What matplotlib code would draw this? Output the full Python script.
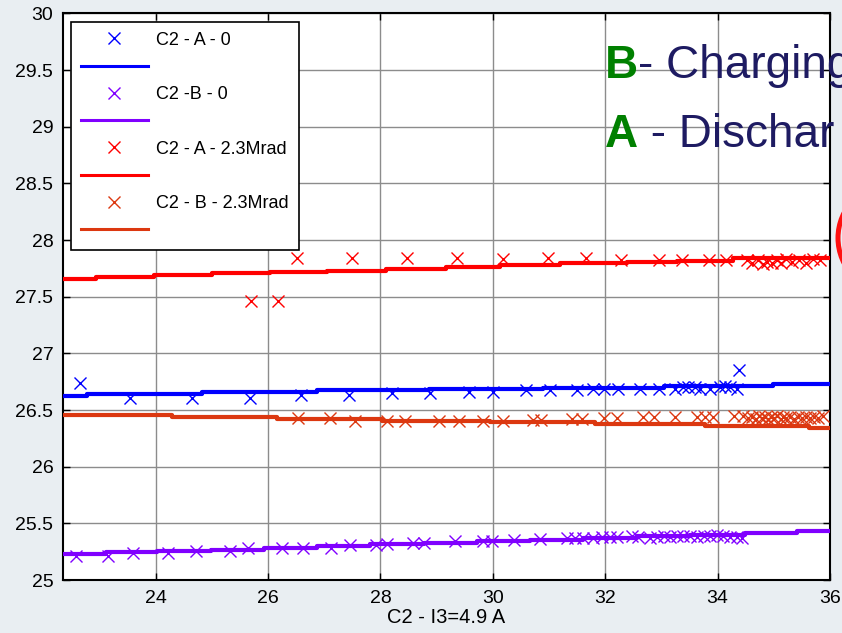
import matplotlib
matplotlib.use("Agg")
import matplotlib.pyplot as plt
from matplotlib.lines import Line2D
from matplotlib.patches import Ellipse

plt.rcParams['font.family'] = ['Liberation Sans', 'DejaVu Sans']

# step-fit lines (x = where each level starts, last x closes the line)
red_step_x = [22.35, 22.93, 23.97, 25.01, 26.04, 27.05, 28.09, 29.16, 30.13, 31.20, 32.38, 33.27, 34.28, 36.0]
red_step_y = [27.654, 27.672, 27.692, 27.707, 27.718, 27.730, 27.745, 27.760, 27.780, 27.795, 27.804, 27.818, 27.840, 27.840]

blue_step_x = [22.35, 22.78, 24.83, 26.87, 28.86, 30.90, 33.04, 34.99, 36.0]
blue_step_y = [26.625, 26.642, 26.660, 26.675, 26.688, 26.697, 26.708, 26.727, 26.727]

orange_step_x = [22.35, 24.29, 26.16, 28.03, 29.95, 31.82, 33.78, 35.62, 36.0]
orange_step_y = [26.452, 26.436, 26.418, 26.405, 26.392, 26.377, 26.359, 26.346, 26.346]

purple_step_x = [22.35, 23.11, 24.03, 24.98, 25.93, 26.87, 27.82, 28.77, 29.72, 30.66, 31.61, 32.56, 33.51, 34.49, 35.41, 36.0]
purple_step_y = [25.229, 25.244, 25.256, 25.268, 25.285, 25.303, 25.318, 25.330, 25.340, 25.355, 25.373, 25.388, 25.398, 25.412, 25.435, 25.435]

# measured points
blue_x = [22.66, 23.55, 24.65, 25.67, 26.58, 27.44, 28.20, 28.88, 29.57, 30.01, 30.59, 31.02, 31.49, 31.79, 31.97,
          32.23, 32.62, 32.95, 33.24, 33.39, 33.48, 33.60, 33.69, 33.87, 34.04, 34.13, 34.22, 34.34, 34.39]
blue_y = [26.74, 26.61, 26.61, 26.61, 26.63, 26.63, 26.65, 26.65, 26.66, 26.66, 26.68, 26.68, 26.68, 26.69, 26.69,
          26.69, 26.69, 26.69, 26.69, 26.70, 26.70, 26.70, 26.69, 26.69, 26.70, 26.71, 26.70, 26.69, 26.85]

purple_x = [22.59, 23.15, 23.60, 24.22, 24.72, 25.33, 25.65, 26.25, 26.62, 27.12, 27.46, 27.92, 28.12, 28.58, 28.78,
            29.33, 29.83, 29.98, 30.37, 30.84, 31.32, 31.46, 31.61, 31.79, 31.94, 32.09, 32.21, 32.47, 32.59, 32.80,
            32.92, 33.04, 33.15, 33.27, 33.39, 33.51, 33.63, 33.75, 33.87, 33.99, 34.10, 34.22, 34.34, 34.43]
purple_y = [25.21, 25.21, 25.24, 25.24, 25.26, 25.26, 25.28, 25.28, 25.28, 25.28, 25.31, 25.31, 25.32, 25.33, 25.33,
            25.34, 25.34, 25.34, 25.35, 25.36, 25.37, 25.37, 25.37, 25.37, 25.38, 25.38, 25.38, 25.39, 25.38, 25.37,
            25.38, 25.39, 25.38, 25.39, 25.39, 25.39, 25.38, 25.39, 25.39, 25.40, 25.39, 25.38, 25.38, 25.37]

red_x = [25.70, 26.18, 26.52, 27.50, 28.47, 29.36, 30.18, 30.99, 31.65, 32.28, 32.96, 33.36, 33.84, 34.15,
         34.52, 34.62, 34.72, 34.80, 34.88, 34.96, 35.05, 35.13, 35.22, 35.33, 35.45, 35.57, 35.70, 35.82]
red_y = [27.46, 27.46, 27.84, 27.84, 27.84, 27.84, 27.83, 27.84, 27.84, 27.82, 27.82, 27.82, 27.82, 27.82,
         27.82, 27.80, 27.82, 27.79, 27.81, 27.80, 27.82, 27.80, 27.83, 27.81, 27.82, 27.80, 27.83, 27.82]

orange_x = [26.53, 27.11, 27.55, 28.12, 28.44, 29.04, 29.39, 29.82, 30.18, 30.71, 30.86, 31.41, 31.58, 31.97, 32.21,
            32.68, 32.86, 33.24, 33.63, 33.78, 33.92, 34.30, 34.46, 34.54, 34.61, 34.68, 34.73, 34.79, 34.85, 34.90,
            34.95, 35.01, 35.06, 35.12, 35.17, 35.22, 35.29, 35.36, 35.43, 35.50, 35.57, 35.65, 35.72, 35.79, 35.88]
orange_y = [26.43, 26.43, 26.40, 26.40, 26.40, 26.40, 26.40, 26.40, 26.40, 26.41, 26.41, 26.42, 26.42, 26.43, 26.43,
            26.44, 26.44, 26.44, 26.44, 26.44, 26.44, 26.45, 26.45, 26.43, 26.44, 26.42, 26.45, 26.43, 26.44, 26.42,
            26.44, 26.43, 26.45, 26.42, 26.44, 26.43, 26.44, 26.42, 26.44, 26.43, 26.44, 26.43, 26.44, 26.43, 26.45]

labels = ['C2 - A - 0', 'C2 -B - 0', 'C2 - A - 2.3Mrad', 'C2 - B - 2.3Mrad']
colors = ['#0000ff', '#8000ff', '#ff0000', '#dc3810']

fig = plt.figure(figsize=(8.42, 6.33), dpi=100, facecolor='#e9eef2')
ax = fig.add_axes([0.0748, 0.0837, 0.9109, 0.8950])
ax.set_facecolor('white')

series = [
    (blue_step_x, blue_step_y, blue_x, blue_y),
    (purple_step_x, purple_step_y, purple_x, purple_y),
    (red_step_x, red_step_y, red_x, red_y),
    (orange_step_x, orange_step_y, orange_x, orange_y),
]

handles = []
leg_labels = []
for (sx, sy, px, py), c, lab in zip(series, colors, labels):
    ax.plot(sx, sy, drawstyle='steps-post', color=c, lw=3, zorder=3)
    ax.plot(px, py, 'x', color=c, ms=9, mew=1, zorder=4)
    handles.append(Line2D([], [], ls='none', marker='x', color=c, ms=9, mew=1))
    leg_labels.append(lab)
    handles.append(Line2D([], [], color=c, lw=2.2))
    leg_labels.append('')

ax.set_xlim(22.35, 36)
ax.set_ylim(25, 30)
ax.set_xticks([24, 26, 28, 30, 32, 34, 36])
ax.set_yticks([25, 25.5, 26, 26.5, 27, 27.5, 28, 28.5, 29, 29.5, 30])
ax.set_yticklabels(['25', '25.5', '26', '26.5', '27', '27.5', '28', '28.5', '29', '29.5', '30'])
ax.tick_params(direction='in', top=True, right=True, length=5, width=1, labelsize=14, pad=7)
ax.grid(True, color='#8c8c8c', lw=1)
for s in ax.spines.values():
    s.set_linewidth(1.5)
ax.set_xlabel('C2 - I3=4.9 A', fontsize=14.5, labelpad=1)

leg = ax.legend(handles, leg_labels, loc='upper left', fontsize=13, handlelength=3.7,
                handletextpad=0.45, labelspacing=0.57, borderpad=0.55, borderaxespad=0.45,
                fancybox=False, framealpha=1, edgecolor='black')
leg.get_frame().set_linewidth(1.2)
leg.set_zorder(10)

# slide text laid over the chart; runs past the right edge of the picture
tb = ax.text(32.0, 29.43, 'B', color='#008000', fontsize=33, fontweight='bold',
             va='baseline', zorder=5)
ax.annotate('- Charging', xy=(1, 0), xycoords=tb, va='bottom', ha='left',
            color='#1e1b62', fontsize=33, zorder=5)
ta = ax.text(32.0, 28.82, 'A', color='#008000', fontsize=33, fontweight='bold',
             va='baseline', zorder=5)
ax.annotate(' - Dischar', xy=(1, 0), xycoords=ta, va='bottom', ha='left',
            color='#1e1b62', fontsize=33, zorder=5)

# edge of red circle from the slide, just outside the plot
fig.add_artist(Ellipse((893 / 842, 395 / 633), 110 / 842, 110 / 633, transform=fig.transFigure,
                       fill=False, edgecolor='#ff1010', lw=3.6))

fig.savefig('out.png', dpi=100, facecolor=fig.get_facecolor())
